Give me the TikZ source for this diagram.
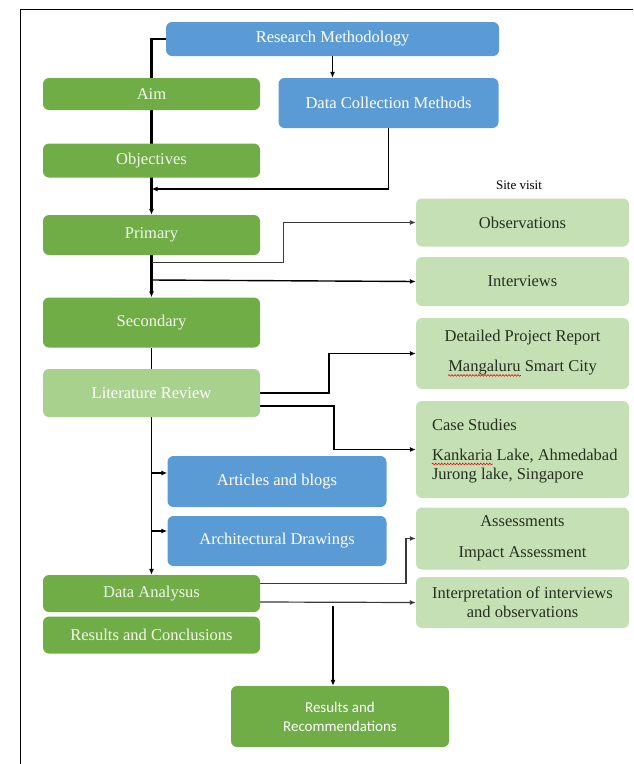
\documentclass[tikz,border=0pt]{standalone}
\usepackage{fontspec}
\setmainfont{Liberation Serif}
\newfontfamily\calibri{Carlito}
\usetikzlibrary{arrows.meta,backgrounds,calc,decorations.pathmorphing}
\definecolor{bluefill}{HTML}{5B9BD5}
\definecolor{greenfill}{HTML}{70AD47}
\definecolor{lrfill}{HTML}{A9D18E}
\definecolor{lightfill}{HTML}{C5E0B4}
\definecolor{darktext}{HTML}{263020}
\definecolor{palegreentext}{HTML}{F2F8EC}
\definecolor{linegray}{HTML}{3A3A3A}
\begin{document}
\begin{tikzpicture}[x=1pt,y=-1pt,
  boxbase/.style={rounded corners=6pt, align=center, inner sep=2pt,
    font=\fontsize{16.5}{19.5}\selectfont},
  bluebox/.style={boxbase, fill=bluefill, text=white},
  greenbox/.style={boxbase, fill=greenfill, text=palegreentext},
  lrbox/.style={boxbase, fill=lrfill, text=white},
  lightbox/.style={boxbase, fill=lightfill, text=darktext},
  boxtext/.style={inner sep=0pt, text=darktext, font=\fontsize{16.5}{19.5}\selectfont},
  spell/.style={draw=red, line width=0.6pt, decorate,
    decoration={snake, amplitude=0.8pt, segment length=3pt}},
  conn/.style={draw=black, line width=1.4pt},
  thinconn/.style={draw=linegray, line width=0.9pt},
  tip/.style={-{Latex[length=6pt,width=5pt]}}
]
\useasboundingbox (0,0) rectangle (633,764);
% frame
\draw[line width=1pt] (20,764) -- (20,9) -- (633,9);

% boxes
\node[bluebox, minimum width=333pt, minimum height=34pt] (rm) at (332.5,39) {Research Methodology};
\node[greenbox, minimum width=217pt, minimum height=32pt] (aim) at (151.5,94) {Aim};
\node[bluebox, minimum width=220pt, minimum height=50pt] (dcm) at (388.5,103) {Data Collection Methods};
\node[greenbox, minimum width=217pt, minimum height=34pt] (obj) at (151.5,160.5) {Objectives};
\node[font=\fontsize{13}{15}\selectfont, text=black] (site) at (519,185) {Site visit};
\node[lightbox, minimum width=213pt, minimum height=48pt] (obs) at (522.5,222.5) {Observations};
\node[greenbox, minimum width=217pt, minimum height=40pt] (prim) at (151.5,235) {Primary};
\node[lightbox, minimum width=213pt, minimum height=49pt] (intv) at (522.5,281.5) {Interviews};
\node[greenbox, minimum width=217pt, minimum height=50pt] (sec) at (151.5,322.5) {Secondary};
\node[lightbox, minimum width=213pt, minimum height=71pt] (dpr) at (522.5,353.5) {};
\node[boxtext] (dpr1) at ($(dpr.center)+(0,-16)$) {Detailed Project Report};
\node[boxtext] (dpr2) at ($(dpr.center)+(0,14.5)$) {Mangaluru Smart City};
\node[boxtext, anchor=base west] (dprw) at (dpr2.base west) {\phantom{Mangaluru}};
\node[lrbox, minimum width=217pt, minimum height=48pt] (lr) at (151.5,393) {Literature Review};
\node[lightbox, minimum width=213pt, minimum height=97pt] (cs) at (522.5,449.5) {};
\node[boxtext, anchor=west] (cs1) at ($(cs.west)+(16,-24.5)$) {Case Studies};
\node[boxtext, anchor=west] (cs2) at ($(cs.west)+(16,6.5)$) {Kankaria Lake, Ahmedabad};
\node[boxtext, anchor=west] (cs3) at ($(cs.west)+(16,26.5)$) {Jurong lake, Singapore};
\node[boxtext, anchor=base west] (csw) at (cs2.base west) {\phantom{Kankaria}};
\node[bluebox, minimum width=219pt, minimum height=51pt] (art) at (277,481.5) {Articles and blogs};
\node[bluebox, minimum width=219pt, minimum height=50pt] (arch) at (277,541) {Architectural Drawings};
\node[lightbox, minimum width=213pt, minimum height=62pt] (ass) at (522.5,538.5)
  {Assessments\\[11pt]Impact Assessment};
\node[greenbox, minimum width=217pt, minimum height=37pt] (da) at (151.5,593.5) {Data Analysus};
\node[greenbox, minimum width=217pt, minimum height=37pt] (rc) at (151.5,635) {Results and Conclusions};
\node[lightbox, minimum width=213pt, minimum height=51pt] (interp) at (522.5,602.5)
  {Interpretation of interviews\\and observations};
\node[greenbox, text=white, minimum width=218pt, minimum height=61pt,
  font=\calibri\fontsize{15}{19}\selectfont] (rr) at (340,716.5)
  {Results and\\Recommendations};

% spelling marks
\draw[spell] ($(dprw.base west)+(0,3.5)$) -- ($(dprw.base east)+(0,3.5)$);
\draw[spell] ($(csw.base west)+(0,3.5)$) -- ($(csw.base east)+(0,3.5)$);

% junction coordinates on the main vertical
\coordinate (jdcm) at (151.5,189);
\coordinate (jobs) at (151.5,262);
\coordinate (jint) at (151.5,280);
\coordinate (jart) at (151.5,473);
\coordinate (jarch) at (151.5,531);
\coordinate (jrr) at (333,606);

\begin{scope}[on background layer]
  % main spine
  \draw[conn, line width=2.6pt, tip] (rm.west) -| (prim.north);
  \draw[conn, line width=2.2pt, tip] (prim.south) -- (sec.north);
  \draw[conn] (sec.south) -- (lr.north);
  \draw[conn, tip] (lr.south) -- (da.north);
  % research methodology -> data collection
  \draw[conn, tip] (rm.south) -- (rm.south |- dcm.north);
  % data collection -> spine
  \draw[conn, tip] (dcm.south) |- (jdcm);
  % primary -> site visit
  \draw[thinconn, tip] (jobs) -- (283,262) |- (obs.west);
  \draw[conn, tip] (jint) -- (intv.west);
  % literature review -> right boxes
  \draw[conn, tip] (lr.east) -- (329,393) |- (dpr.west);
  \draw[conn, tip] ($(lr.east)+(0,13)$) -- (334,406) |- (cs.west);
  % literature review -> blue boxes
  \draw[conn, tip] (jart) -- (jart -| art.west);
  \draw[conn, tip] (jarch) -- (jarch -| arch.west);
  % data analysis -> right boxes
  \draw[thinconn, line width=1.1pt, tip] ($(da.east)+(0,-10)$) -- (406,583.5) |- (ass.west);
  \draw[thinconn, line width=1.2pt, tip] ($(da.east)+(0,8.5)$) -- (interp.west);
  % to results and recommendations
  \draw[conn, tip] (jrr) -- (jrr |- rr.north);
\end{scope}
\end{tikzpicture}
\end{document}
